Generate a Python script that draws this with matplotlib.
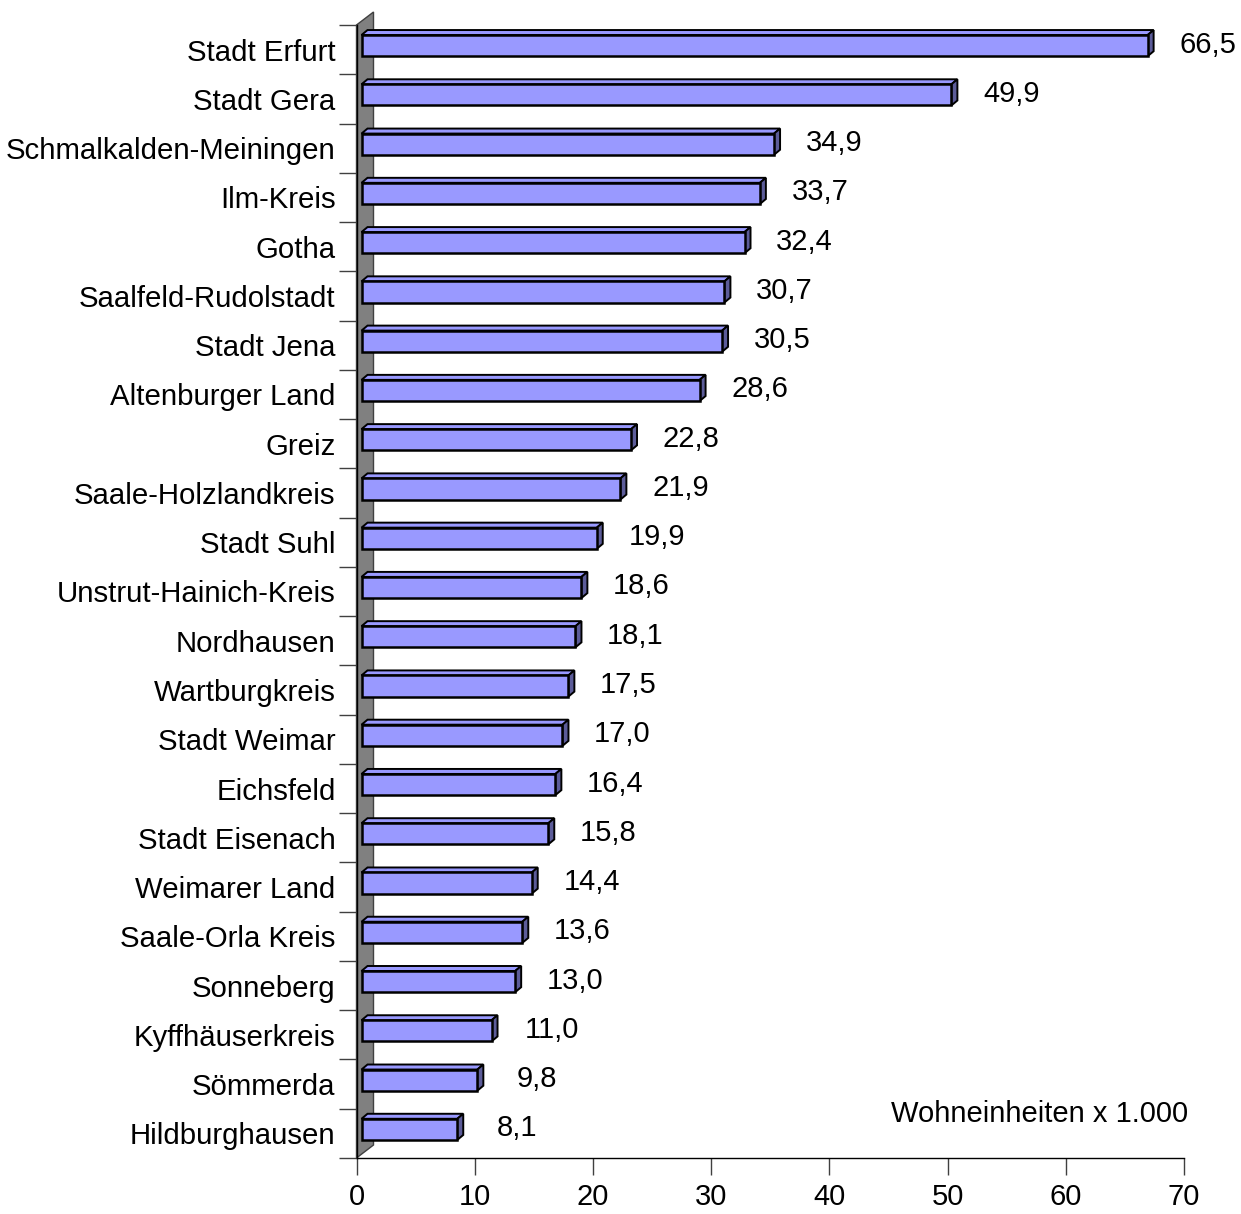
import matplotlib
matplotlib.use("Agg")
import matplotlib.pyplot as plt
from matplotlib.patches import Polygon
from matplotlib.transforms import ScaledTranslation

plt.rcParams['font.family'] = ['Liberation Sans', 'DejaVu Sans']

districts = [
    "Stadt Erfurt", "Stadt Gera", "Schmalkalden-Meiningen", "Ilm-Kreis", "Gotha",
    "Saalfeld-Rudolstadt", "Stadt Jena", "Altenburger Land", "Greiz",
    "Saale-Holzlandkreis", "Stadt Suhl", "Unstrut-Hainich-Kreis", "Nordhausen",
    "Wartburgkreis", "Stadt Weimar", "Eichsfeld", "Stadt Eisenach", "Weimarer Land",
    "Saale-Orla Kreis", "Sonneberg", "Kyffhäuserkreis", "Sömmerda", "Hildburghausen",
]
dwellings = [66.5, 49.9, 34.9, 33.7, 32.4, 30.7, 30.5, 28.6, 22.8, 21.9, 19.9, 18.6,
             18.1, 17.5, 17.0, 16.4, 15.8, 14.4, 13.6, 13.0, 11.0, 9.8, 8.1]
x_ticks = [0, 10, 20, 30, 40, 50, 60, 70]
unit_note = "Wohneinheiten x 1.000"

W, H, DPI = 1241, 1214, 100
fig = plt.figure(figsize=(W / DPI, H / DPI), dpi=DPI)

# axes rectangle in pixels
ax_l, ax_r, ax_t, ax_b = 356.5, 1184, 25, 1158
ax = fig.add_axes([ax_l / W, (H - ax_b) / H, (ax_r - ax_l) / W, (ax_b - ax_t) / H])
n = len(districts)
ax.set_xlim(0, 70)
ax.set_ylim(-0.5, n - 0.5)

px_x = (ax_r - ax_l) / 70.0
px_y = (ax_b - ax_t) / n

# back wall (depth offset in pixels)
wall_dx, wall_dy = 17, 13
wdx = wall_dx / (ax_r - ax_l)
wdy = wall_dy / (ax_b - ax_t)
wall = Polygon([(0, 0), (0, 1), (wdx, 1 + wdy), (wdx, wdy)], closed=True,
               transform=ax.transAxes, facecolor="#808080", edgecolor="#404040",
               lw=1.0, clip_on=False, zorder=1)
ax.add_patch(wall)

# bars: front face shifted into the depth, plus top and side faces
front_dx, front_dy = 5, 4          # pixels
depth_dx, depth_dy = 6, 5          # pixels
shift = ax.transData + ScaledTranslation(front_dx / DPI, front_dy / DPI, fig.dpi_scale_trans)
ddx = depth_dx / px_x
ddy = depth_dy / px_y
bar_h = 0.43
face = "#9999FF"
side = "#5C5C99"
ypos = [n - 1 - i for i in range(n)]

for y, v in zip(ypos, dwellings):
    y0, y1 = y - bar_h / 2, y + bar_h / 2
    top = Polygon([(0, y1), (v, y1), (v + ddx, y1 + ddy), (ddx, y1 + ddy)], closed=True,
                  transform=shift, facecolor=face, edgecolor="black", lw=1.4,
                  joinstyle="miter", zorder=3)
    right = Polygon([(v, y0), (v, y1), (v + ddx, y1 + ddy), (v + ddx, y0 + ddy)], closed=True,
                    transform=shift, facecolor=side, edgecolor="black", lw=1.4,
                    joinstyle="miter", zorder=3)
    ax.add_patch(top)
    ax.add_patch(right)

ax.barh(ypos, dwellings, height=bar_h, left=0, color=face, edgecolor="black",
        linewidth=1.8, transform=shift, zorder=4)

# value labels
for y, v in zip(ypos, dwellings):
    ax.annotate(f"{v:.1f}".replace(".", ","), xy=(v, y), xytext=(65 * 0.72, 5 * 0.72),
                textcoords="offset points", ha="center", va="center",
                fontsize=21, annotation_clip=False, zorder=5)

# axes styling
for s in ("top", "right"):
    ax.spines[s].set_visible(False)
ax.spines["left"].set_linewidth(1.0)
ax.spines["bottom"].set_linewidth(1.0)
ax.spines["left"].set_zorder(2)

ax.set_xticks(x_ticks)
ax.set_xticklabels([str(t) for t in x_ticks])
ax.tick_params(axis="x", direction="out", length=12.2, width=1.0, pad=6,
               labelsize=21, color="#404040")

ax.set_yticks(ypos)
ax.set_yticklabels(districts)
ax.tick_params(axis="y", which="major", length=0, pad=15, labelsize=21.2)
ax.set_yticks([k - 0.5 for k in range(n + 1)], minor=True)
ax.tick_params(axis="y", which="minor", direction="out", length=13, width=1.0,
               color="#404040")

fig.text(1188 / W, (H - 1114) / H, unit_note, ha="right", va="center", fontsize=21)

fig.savefig("out.png", dpi=DPI)
